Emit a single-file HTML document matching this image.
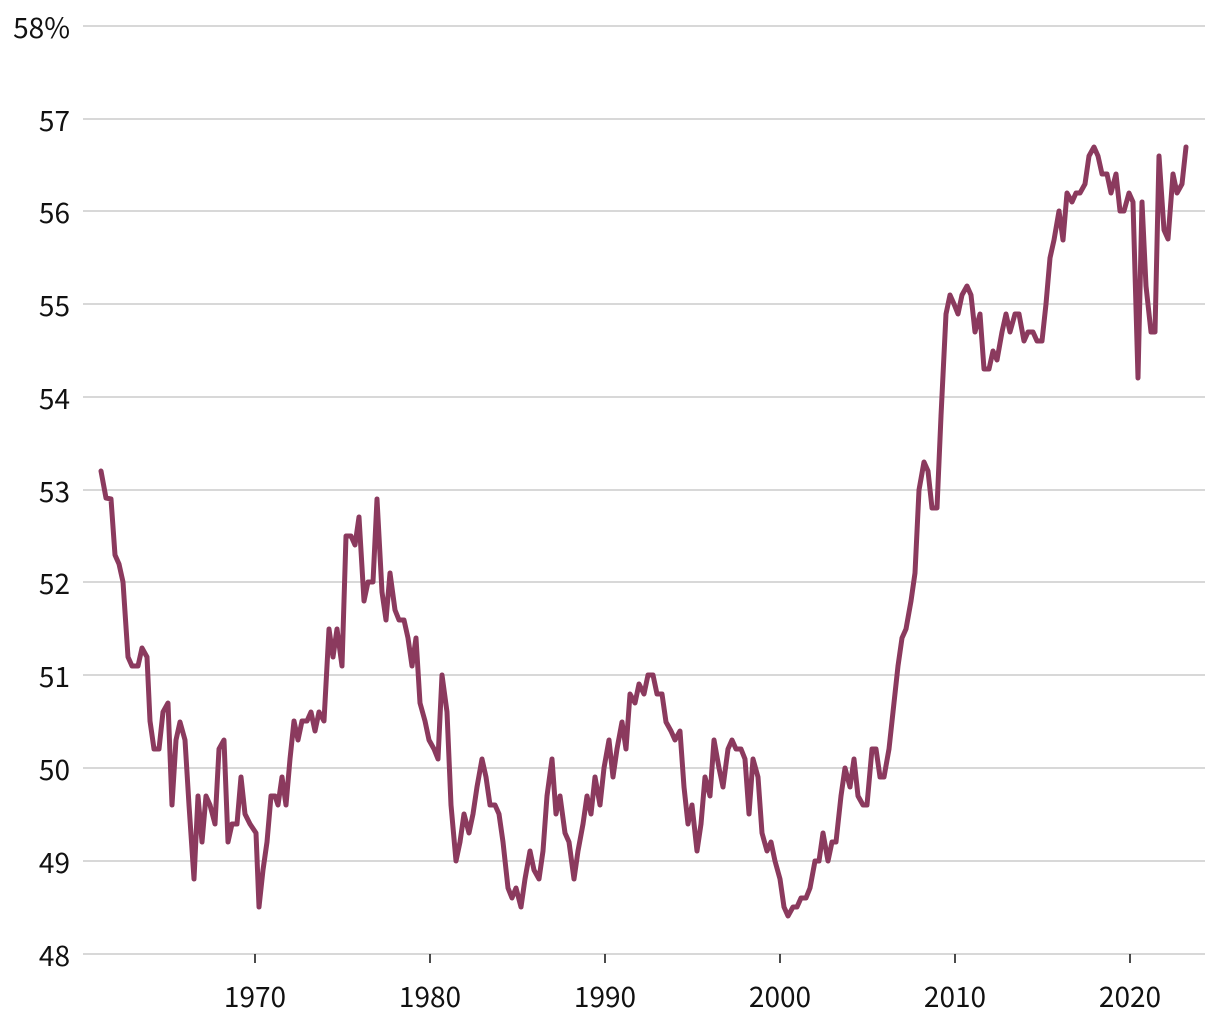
<!DOCTYPE html>
<html><head><meta charset="utf-8"><style>
html,body{margin:0;padding:0;background:#fff;}
svg text{font-family:"Noto Sans CJK SC","Liberation Sans",sans-serif;font-size:28px;fill:#111;}
</style></head><body>
<svg width="1220" height="1020" viewBox="0 0 1220 1020" xmlns="http://www.w3.org/2000/svg">
<g stroke="#cccccc" stroke-width="1.5">
<line x1="83" x2="1205" y1="26" y2="26"/>
<line x1="83" x2="1205" y1="119" y2="119"/>
<line x1="83" x2="1205" y1="211" y2="211"/>
<line x1="83" x2="1205" y1="304" y2="304"/>
<line x1="83" x2="1205" y1="397" y2="397"/>
<line x1="83" x2="1205" y1="490" y2="490"/>
<line x1="83" x2="1205" y1="582" y2="582"/>
<line x1="83" x2="1205" y1="675" y2="675"/>
<line x1="83" x2="1205" y1="768" y2="768"/>
<line x1="83" x2="1205" y1="861" y2="861"/>
<line x1="83" x2="1205" y1="954" y2="954"/>
</g>
<g stroke="#111" stroke-width="1.5">
<line x1="255" x2="255" y1="954" y2="963"/><line x1="430" x2="430" y1="954" y2="963"/>
<line x1="605" x2="605" y1="954" y2="963"/><line x1="780" x2="780" y1="954" y2="963"/>
<line x1="955" x2="955" y1="954" y2="963"/><line x1="1130" x2="1130" y1="954" y2="963"/>
</g>
<g text-anchor="end" dominant-baseline="central">
<text x="70" y="27">58%</text>
<text x="70" y="120">57</text><text x="70" y="212">56</text><text x="70" y="305">55</text>
<text x="70" y="398">54</text><text x="70" y="491">53</text><text x="70" y="583">52</text>
<text x="70" y="676">51</text><text x="70" y="769">50</text><text x="70" y="862">49</text>
<text x="70" y="955">48</text>
</g>
<g text-anchor="middle" dominant-baseline="central">
<text x="255" y="996">1970</text><text x="430" y="996">1980</text><text x="605" y="996">1990</text>
<text x="780" y="996">2000</text><text x="955" y="996">2010</text><text x="1130" y="996">2020</text>
</g>
<polyline fill="none" stroke="#8b3a5e" stroke-width="5" stroke-linejoin="round" stroke-linecap="round" points="101,471 106,498 111,499 115,555 119,564 123,582 128,657 132,666 138,666 142,648 147,657 150,721 154,749 159,749 163,712 168,703 172,805 176,740 180,722 185,740 189,805 194,879 198,796 202,842 206,796 210,805 215,824 219,749 224,740 228,842 232,824 237,824 241,777 245,814 250,824 256,833 259,907 263,870 267,842 271,796 275,796 278,805 282,777 286,805 290,759 294,721 298,740 302,721 307,721 311,712 315,731 319,712 324,721 329,629 333,657 337,629 342,666 346,536 351,536 355,545 359,517 364,601 368,582 373,582 377,499 382,592 386,620 390,573 395,610 399,620 404,620 408,638 412,666 416,638 420,703 425,721 429,740 434,749 438,759 442,675 447,712 451,805 456,861 460,842 464,814 469,833 473,814 477,787 482,759 486,777 490,805 495,805 499,814 503,842 508,888 512,898 516,888 521,907 525,879 530,851 534,870 539,879 543,851 547,796 552,759 556,814 560,796 565,833 569,842 574,879 578,851 583,824 587,796 591,814 595,777 600,805 604,768 609,740 613,777 617,749 622,722 626,749 630,694 635,703 639,684 644,694 648,675 653,675 657,694 662,694 666,722 671,731 675,740 680,731 684,787 688,824 692,805 697,851 701,824 705,777 710,796 714,740 719,768 723,787 728,749 732,740 736,749 741,749 745,759 749,814 753,759 758,777 762,833 767,851 771,842 775,861 780,879 784,907 788,916 793,907 797,907 801,898 806,898 810,888 815,861 819,861 823,833 828,861 832,842 836,842 841,796 845,768 850,787 854,759 858,796 863,805 867,805 872,749 876,749 880,777 884,777 889,749 893,712 898,666 902,638 906,629 911,601 915,573 919,490 924,462 928,471 932,508 937,508 941,416 946,314 950,295 954,304 958,314 962,295 967,286 971,295 975,332 980,314 984,369 989,369 993,351 997,360 1002,332 1006,314 1010,332 1015,314 1019,314 1024,341 1028,332 1033,332 1037,341 1042,341 1046,304 1050,258 1054,240 1059,211 1063,240 1067,193 1072,202 1076,193 1080,193 1085,184 1089,156 1094,147 1098,156 1102,174 1107,174 1111,193 1116,174 1120,211 1124,211 1129,193 1133,202 1138,378 1142,202 1146,286 1151,332 1155,332 1159,156 1164,230 1168,239 1173,174 1177,193 1182,184 1186,147"/>
</svg>
</body></html>
